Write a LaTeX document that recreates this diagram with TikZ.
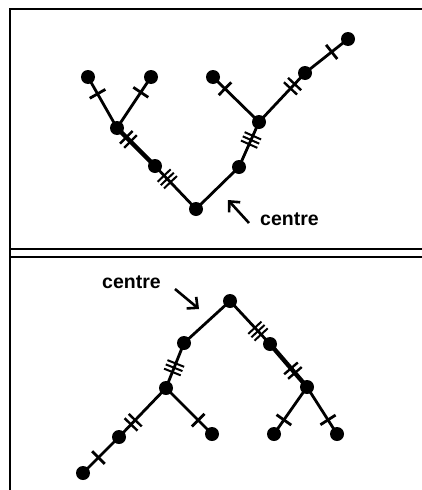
\documentclass[tikz,border=0pt]{standalone}
\usepackage{fontspec}
\setmainfont{Liberation Sans}
\usetikzlibrary{decorations.markings,arrows.meta}
\tikzset{
  dot/.style={circle,fill=black,inner sep=0pt,minimum size=14pt},
  edge/.style={line width=2.8pt},
  heavy/.style={line width=4.4pt},
  tickline/.style={line width=2.8pt},
  t1/.style={postaction={decorate,decoration={markings,mark=at position #1 with {\draw[tickline] (0,-9)--(0,9);}}}},
  t2/.style={postaction={decorate,decoration={markings,mark=at position #1 with {\draw[tickline,line width=2.4pt] (-3,-9)--(-3,9) (3,-9)--(3,9);}}}},
  t3/.style={postaction={decorate,decoration={markings,mark=at position #1 with {\draw[tickline,line width=2pt] (-4.6,-9)--(-4.6,9) (0,-9)--(0,9) (4.6,-9)--(4.6,9);}}}},
  label/.style={font=\bfseries\fontsize{19.5}{24}\selectfont,inner sep=0pt,anchor=base west},
  pointer/.style={line width=2.6pt,-{Straight Barb[length=8pt,width=15pt,line width=2.6pt]}},
  frame/.style={line width=2.6pt}
}
\begin{document}
\begin{tikzpicture}[x=1pt,y=-1pt]
\useasboundingbox (0,0) rectangle (422,490);

% panel borders
\draw[frame] (422,9) -- (10,9) -- (10,490);
\draw[frame] (10,249) -- (422,249);
\draw[frame] (10,257) -- (422,257);

% ---- upper tree ----
\node[dot] (ua) at (88,77) {};
\node[dot] (ub) at (151,77) {};
\node[dot] (uj) at (117,128) {};
\node[dot] (un) at (155,166) {};
\node[dot] (uc) at (196,209) {};
\node[dot] (um) at (239,167) {};
\node[dot] (uk) at (259,122) {};
\node[dot] (ud) at (213,77) {};
\node[dot] (up) at (305,73) {};
\node[dot] (ue) at (348,39) {};

\draw[edge,t1=0.33] (ua.center) -- (uj.center);
\draw[edge,t1=0.3] (ub.center) -- (uj.center);
\draw[heavy,t2=0.3] (uj.center) -- (un.center);
\draw[edge,t3=0.3] (un.center) -- (uc.center);
\draw[edge] (uc.center) -- (um.center);
\draw[edge,t3=0.6] (um.center) -- (uk.center);
\draw[edge,t1=0.74] (uk.center) -- (ud.center);
\draw[edge,t2=0.73] (uk.center) -- (up.center);
\draw[edge,t1=0.62] (up.center) -- (ue.center);

\coordinate (utail) at (249,223);
\coordinate (uhead) at (228,200);
\draw[pointer] (utail) -- (uhead);
\node[label] (ulab) at (260,225) {centre};

% ---- lower tree ----
\node[dot] (lc) at (230,301) {};
\node[dot] (ln) at (184,343) {};
\node[dot] (lj) at (166,388) {};
\node[dot] (lm) at (119,437) {};
\node[dot] (la) at (83,473) {};
\node[dot] (lb) at (212,434) {};
\node[dot] (lp) at (270,344) {};
\node[dot] (lk) at (307,387) {};
\node[dot] (ld) at (274,434) {};
\node[dot] (le) at (337,434) {};

\draw[edge] (lc.center) -- (ln.center);
\draw[edge,t3=0.55] (ln.center) -- (lj.center);
\draw[edge,t2=0.7] (lj.center) -- (lm.center);
\draw[edge,t1=0.57] (lm.center) -- (la.center);
\draw[edge,t1=0.7] (lj.center) -- (lb.center);
\draw[edge,t3=0.7] (lc.center) -- (lp.center);
\draw[heavy,t2=0.62] (lp.center) -- (lk.center);
\draw[edge,t1=0.7] (lk.center) -- (ld.center);
\draw[edge,t1=0.7] (lk.center) -- (le.center);

\coordinate (ltail) at (175,289);
\coordinate (lhead) at (199,309);
\draw[pointer] (ltail) -- (lhead);
\node[label] (llab) at (102,288) {centre};
\end{tikzpicture}
\end{document}
